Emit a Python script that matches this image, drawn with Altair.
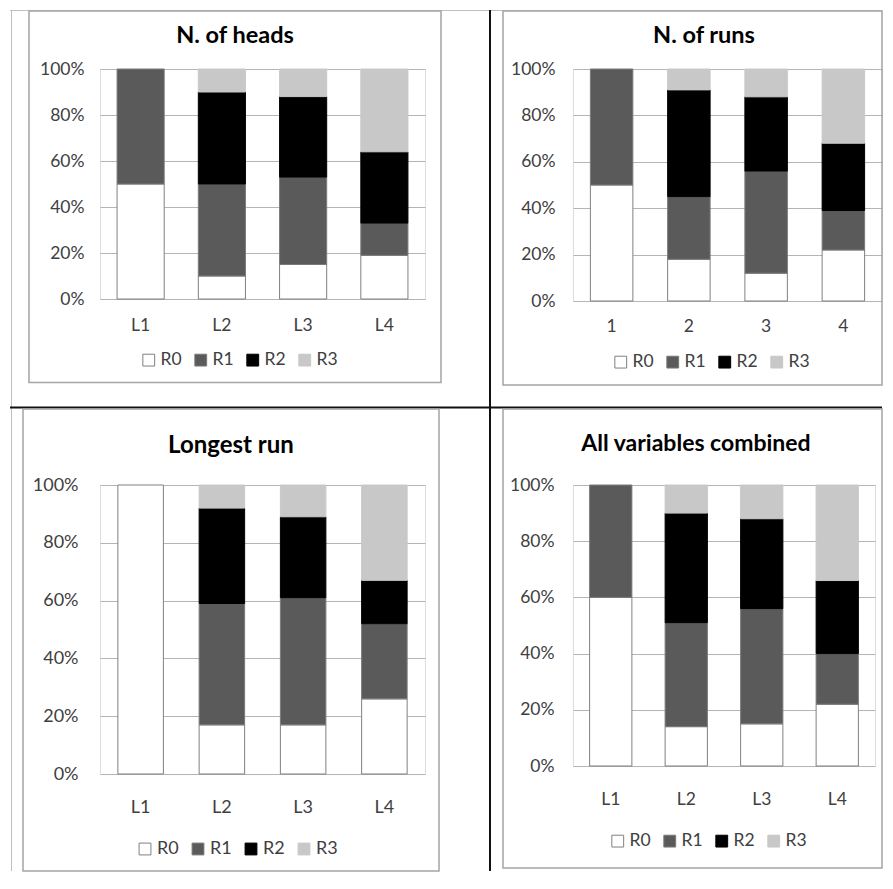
import altair as alt
import pandas as pd

FONT = "Lato"

series = ["R0", "R1", "R2", "R3"]
cats_L = ["L1", "L2", "L3", "L4"]
cats_N = ["1", "2", "3", "4"]

heads_R0 = [50, 10, 15, 19]
heads_R1 = [50, 40, 38, 14]
heads_R2 = [0, 40, 35, 31]
heads_R3 = [0, 10, 12, 36]

runs_R0 = [50, 18, 12, 22]
runs_R1 = [50, 27, 44, 17]
runs_R2 = [0, 46, 32, 29]
runs_R3 = [0, 9, 12, 32]

longest_R0 = [100, 17, 17, 26]
longest_R1 = [0, 42, 44, 26]
longest_R2 = [0, 33, 28, 15]
longest_R3 = [0, 8, 11, 33]

combined_R0 = [60, 14, 15, 22]
combined_R1 = [40, 37, 41, 18]
combined_R2 = [0, 39, 32, 26]
combined_R3 = [0, 10, 12, 34]

titles = ["N. of heads", "N. of runs", "Longest run", "All variables combined"]
y_ticks = [0, 20, 40, 60, 80, 100]

fills = ["#ffffff", "#5a5a5a", "#000000", "#c8c8c8"]
strokes = ["#808080", "#7a7a7a", "#000000", "#c8c8c8"]

one = pd.DataFrame({"k": [0]})


def panel(cats, vals, title, w, h, pad, box, title_xy, title_size,
          legend_xy, label_size, ypad, xpad, extras=()):
    rows = []
    for si, s in enumerate(series):
        for ci, c in enumerate(cats):
            v = vals[si][ci]
            if v > 0:
                rows.append({"cat": c, "series": s, "ord": si, "value": v})
    df = pd.DataFrame(rows)
    leg = alt.Legend(
        title=None, orient="none", legendX=legend_xy[0], legendY=legend_xy[1],
        direction="horizontal", symbolType="square", symbolSize=140,
        symbolStrokeWidth=1, labelFontSize=label_size, labelFont=FONT,
        labelColor="#404040", labelOffset=3, columnPadding=10, padding=0,
    )
    bars = alt.Chart(df).mark_bar(strokeWidth=1).encode(
        x=alt.X("cat:N", sort=cats,
                scale=alt.Scale(paddingInner=pad, paddingOuter=pad / 2),
                axis=alt.Axis(title=None, labelAngle=0, ticks=False, domain=False,
                              labelPadding=xpad, labelFontSize=label_size,
                              labelFont=FONT, labelColor="#404040")),
        y=alt.Y("value:Q", stack="zero",
                scale=alt.Scale(domain=[0, 100], nice=False),
                axis=alt.Axis(title=None, values=y_ticks,
                              labelExpr="datum.value + '%'", ticks=False,
                              domain=False, grid=True, gridColor="#b4b4b4",
                              gridWidth=1.2, labelPadding=ypad,
                              labelFontSize=label_size, labelFont=FONT,
                              labelColor="#404040")),
        color=alt.Color("series:N", scale=alt.Scale(domain=series, range=fills), legend=leg),
        stroke=alt.Stroke("series:N", scale=alt.Scale(domain=series, range=strokes), legend=leg),
        order=alt.Order("ord:Q", sort="ascending"),
    )
    frame = alt.Chart(one).mark_rect(fillOpacity=0, stroke="#a4a4a4", strokeWidth=1.5).encode(
        x=alt.value(box[0]), x2=alt.value(box[1]), y=alt.value(box[2]), y2=alt.value(box[3])
    )
    ttl = alt.Chart(one).mark_text(
        text=title, font=FONT, fontWeight="bold", fontSize=title_size,
        align="center", baseline="alphabetic", color="#000000"
    ).encode(x=alt.value(title_xy[0]), y=alt.value(title_xy[1]))
    return alt.layer(*extras, frame, bars, ttl).properties(width=w, height=h)


# separators and outer lines (in panel 1 pixel frame; panel 1 origin = page (99, 68))
sep_h = alt.Chart(one).mark_rule(color="#111111", strokeWidth=2).encode(
    x=alt.value(-90), x2=alt.value(782), y=alt.value(338.5))
sep_v = alt.Chart(one).mark_rule(color="#111111", strokeWidth=2).encode(
    x=alt.value(390), y=alt.value(-59), y2=alt.value(802))
out_l = alt.Chart(one).mark_rule(color="#c0c0c0", strokeWidth=1).encode(
    x=alt.value(-88.5), y=alt.value(-59), y2=alt.value(802))
out_t = alt.Chart(one).mark_rule(color="#c0c0c0", strokeWidth=1).encode(
    x=alt.value(-90), x2=alt.value(782), y=alt.value(-58.5))

p1 = panel(cats_L, [heads_R0, heads_R1, heads_R2, heads_R3], titles[0],
           325, 230, 0.42, (-71, 341, -58, 313.5), (135, -26), 23.5,
           (40, 282), 17.5, 16, 17, extras=(out_l, out_t, sep_h, sep_v))
p2 = panel(cats_N, [runs_R0, runs_R1, runs_R2, runs_R3], titles[1],
           309, 232, 0.45, (-70, 309, -58, 316), (131, -26), 23.5,
           (39, 284), 17.5, 18, 16)
p3 = panel(cats_L, [longest_R0, longest_R1, longest_R2, longest_R3], titles[2],
           325, 289, 0.44, (-77, 339, -76, 386), (131, -32), 24,
           (36, 355), 18, 22, 24)
p4 = panel(cats_L, [combined_R0, combined_R1, combined_R2, combined_R3], titles[3],
           302, 281, 0.44, (-70, 309, -76, 383), (123, -34), 23,
           (36, 347), 17.5, 19, 24)

chart = alt.concat(
    p1, p2, p3, p4, columns=2,
    spacing={"row": 184, "column": 148}, bounds="flush",
).resolve_scale(
    color="independent", stroke="independent", x="independent", y="independent"
).resolve_legend(
    color="independent", stroke="independent"
).properties(padding=0).configure_view(strokeWidth=0).configure(font=FONT)

chart.save("out.html", embed_options={"renderer": "svg", "actions": False})
